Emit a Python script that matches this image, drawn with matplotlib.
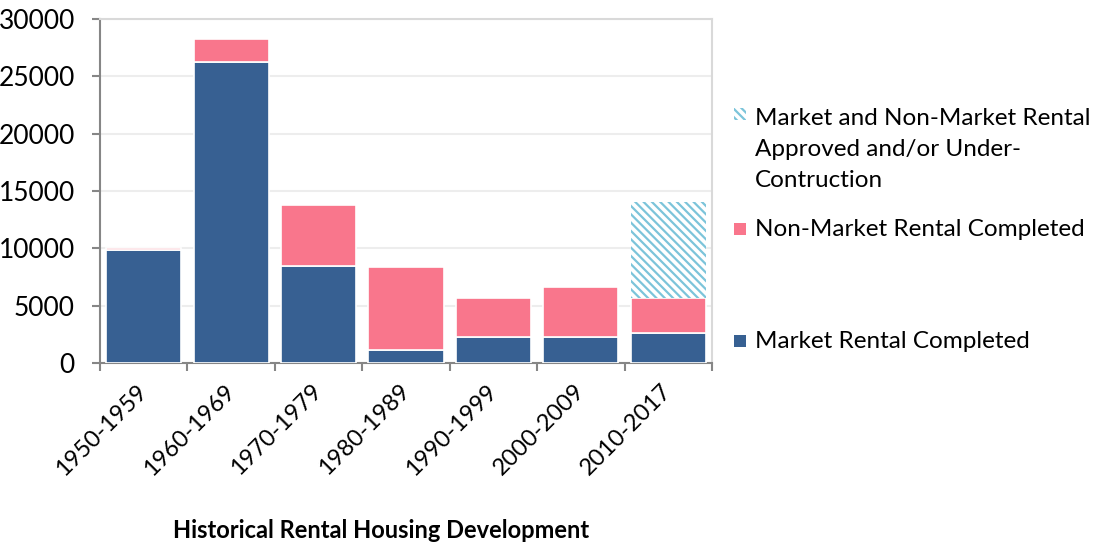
import matplotlib
matplotlib.use("Agg")
import matplotlib.pyplot as plt
from matplotlib.patches import Rectangle
import numpy as np

categories = ["1950-1959", "1960-1969", "1970-1979", "1980-1989", "1990-1999", "2000-2009", "2010-2017"]
market_completed = [9850, 26250, 8500, 1150, 2250, 2250, 2650]
non_market_completed = [150, 2000, 5250, 7250, 3400, 4350, 3050]
approved_under_construction = [0, 0, 0, 0, 0, 0, 8300]
legend_labels = ["Market and Non-Market Rental\nApproved and/or Under-\nContruction",
                 "Non-Market Rental Completed",
                 "Market Rental Completed"]
yticks = [0, 5000, 10000, 15000, 20000, 25000, 30000]
title = "Historical Rental Housing Development"

BLUE = "#376092"
PINK = "#F9768C"
HATCH = "#7CC4DA"

plt.rcParams['font.family'] = ['Lato', 'DejaVu Sans']
plt.rcParams['hatch.linewidth'] = 1.6
plt.rcParams['hatch.color'] = HATCH

W, H = 1097, 543
fig = plt.figure(figsize=(W / 100, H / 100), dpi=100)
ax = fig.add_axes([100 / W, 1 - 363 / H, 612 / W, 344 / H])

x = np.arange(len(categories))
mc = np.array(market_completed)
nm = np.array(non_market_completed)
ap = np.array(approved_under_construction)
bw = 0.86
ax.bar(x, mc, width=bw, color=BLUE, edgecolor="white", linewidth=1.2, zorder=3)
ax.bar(x, nm, bottom=mc, width=bw, color=PINK, edgecolor="white", linewidth=1.2, zorder=3)
ax.bar(x, ap, bottom=mc + nm, width=bw, color="white", hatch="\\\\\\\\",
       edgecolor=HATCH, linewidth=0, zorder=3)

ax.set_xlim(-0.5, len(categories) - 0.5)
ax.set_ylim(0, 30000)
ax.set_yticks(yticks)
ax.set_yticklabels([str(v) for v in yticks], fontsize=19)
ax.yaxis.grid(True, color="#EDEDED", linewidth=1.5, zorder=0)
ax.set_axisbelow(True)

ax.set_xticks(x)
ax.set_xticklabels(categories, fontsize=17, rotation=45, ha="right", va="center",
                   rotation_mode="anchor")
ax.set_xticks(np.arange(len(categories) + 1) - 0.5, minor=True)
ax.tick_params(axis="x", which="major", length=0, pad=18)
ax.tick_params(axis="x", which="minor", length=6, width=1.5, color="#868686")
ax.tick_params(axis="y", length=6, width=1.5, color="#868686", pad=12)

for s in ["left", "bottom"]:
    ax.spines[s].set_color("#868686")
    ax.spines[s].set_linewidth(1.5)
for s in ["top", "right"]:
    ax.spines[s].set_color("#D9D9D9")
    ax.spines[s].set_linewidth(1.5)

# legend (manual, Excel-like spacing)
def fx(px):
    return px / W

def fy(py):
    return 1 - py / H

sq = 12
items = [
    (108, 120, dict(facecolor="white", hatch="\\\\\\\\", edgecolor=HATCH, linewidth=0)),
    (223, 231, dict(facecolor=PINK, edgecolor="none")),
    (335, 343, dict(facecolor=BLUE, edgecolor="none")),
]
for (ptop, ytext, style), label in zip(items, legend_labels):
    fig.patches.append(Rectangle((fx(734), fy(ptop + sq)), sq / W, sq / H,
                                 transform=fig.transFigure, **style))
    fig.text(fx(755), fy(ytext - 12), label, fontsize=17.5, ha="left", va="top",
             linespacing=1.6)

fig.text(fx(381), fy(530), title, fontsize=17, fontweight="bold", ha="center", va="center")

fig.savefig("out.png", dpi=100)
